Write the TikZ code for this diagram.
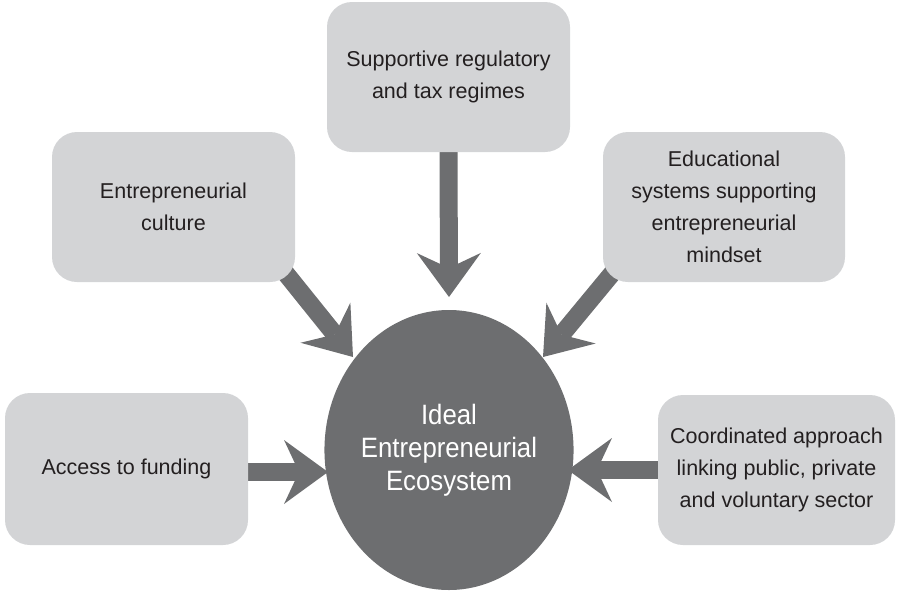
\documentclass[tikz,border=0pt]{standalone}
\usepackage{fontspec}
\setmainfont{Liberation Sans}
\newfontfamily\ellfont[FakeStretch=0.92]{Liberation Sans}
\usetikzlibrary{arrows.meta,calc,backgrounds,shapes.geometric}
\definecolor{boxgray}{RGB}{211,212,214}
\definecolor{darkgrey}{RGB}{109,110,112}
\definecolor{txt}{RGB}{35,31,32}
\begin{document}
\begin{tikzpicture}[x=1pt,y=-1pt,
  infobox/.style={draw=none, fill=boxgray, rounded corners=25pt,
    minimum width=243pt, minimum height=150pt, align=center, text=txt,
    font=\fontsize{21.5}{32}\selectfont, inner sep=0pt},
  bigarrow/.style={draw=darkgrey, line width=18pt,
    -{Stealth[length=44pt,width=64pt,inset=15pt,line width=0pt]}}]
\useasboundingbox (0,0) rectangle (899,592);
\node[infobox] (reg) at (448.5,77) {Supportive regulatory\\and tax regimes};
\node[infobox] (cult) at (173.5,207) {Entrepreneurial\\culture};
\node[infobox, minimum width=242pt] (edu) at (724,207) {Educational\\systems supporting\\entrepreneurial\\mindset};
\node[infobox, minimum height=152pt] (fund) at (126.5,469) {Access to funding};
\node[infobox, minimum width=237pt] (coord) at (776.5,470) {Coordinated approach\\linking public, private\\and voluntary sector};
\node[ellipse, fill=darkgrey, minimum width=228pt, minimum height=280pt,
  text=white, align=center, inner sep=0pt,
  font=\ellfont\fontsize{28}{33}\selectfont] (eco) at (449,450) {Ideal\\Entrepreneurial\\Ecosystem};
\coordinate (tReg) at (449,297);
\coordinate (tCult) at (353,357);
\coordinate (tEdu) at (543,357);
\coordinate (tFund) at (328,472);
\coordinate (tCoord) at (568,470);
\begin{scope}[on background layer]
\draw[bigarrow] ($(reg.south)+(0,-10)$) -- (tReg);
\draw[bigarrow] ($(cult.south east)+(-12,-12)$) -- (tCult);
\draw[bigarrow] ($(edu.south west)+(12,-12)$) -- (tEdu);
\draw[bigarrow] ($(fund.east)+(-10,3)$) -- (tFund);
\draw[bigarrow] ($(coord.west)+(10,0)$) -- (tCoord);
\end{scope}
\end{tikzpicture}
\end{document}
